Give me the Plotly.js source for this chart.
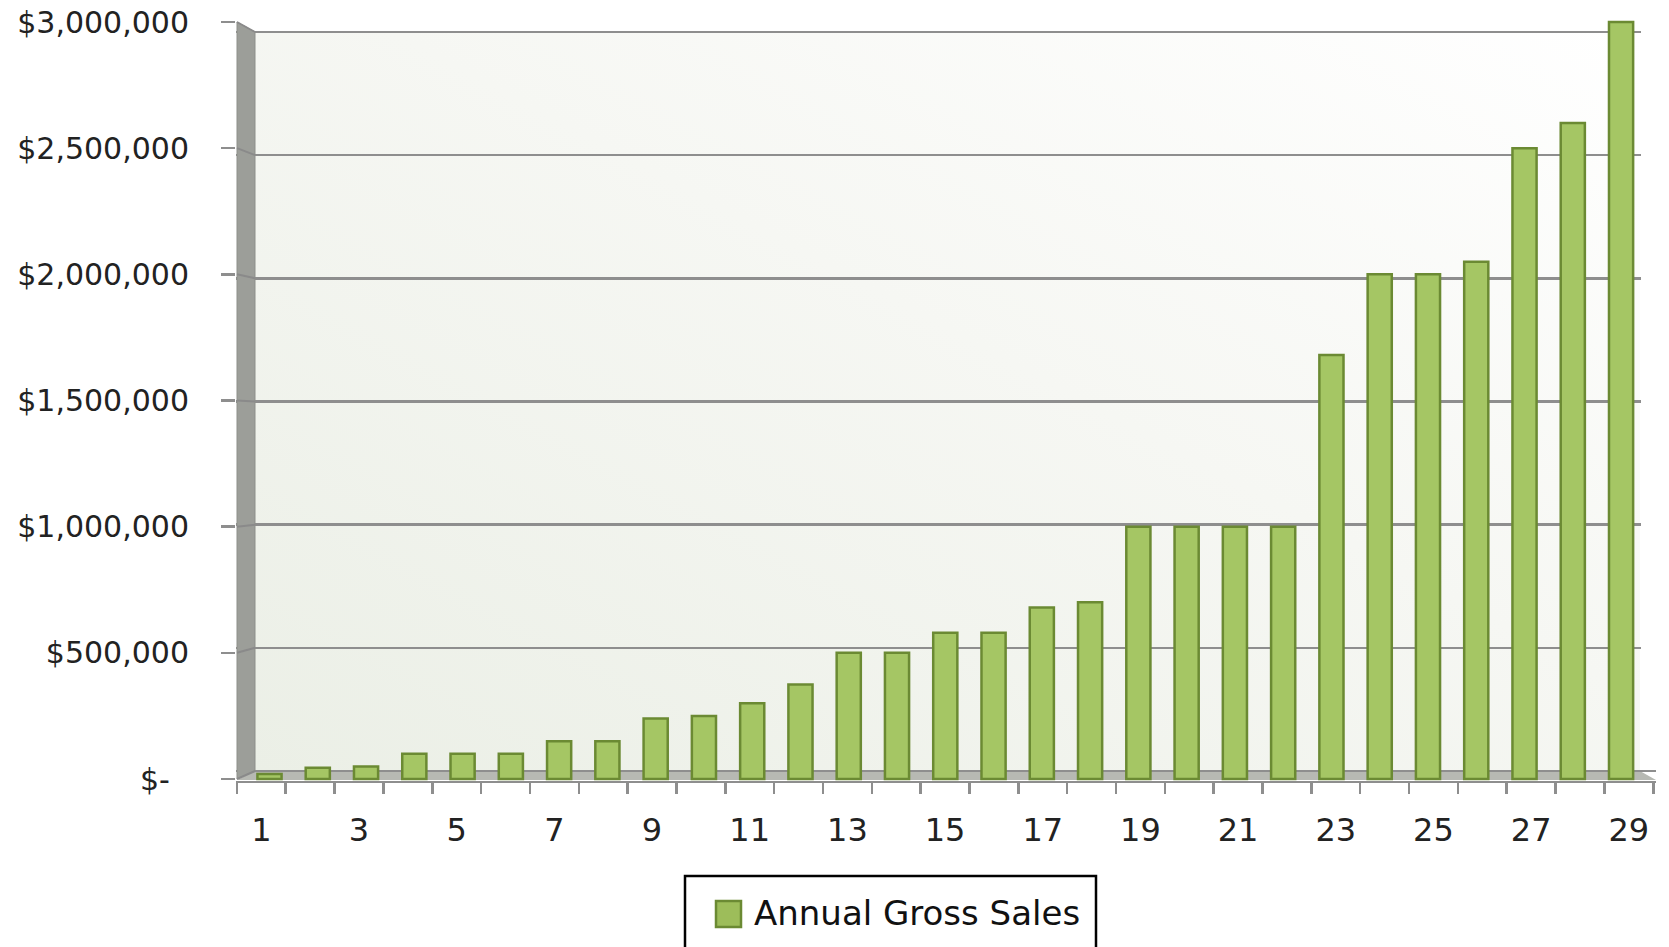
<!DOCTYPE html>
<html>
<head>
<meta charset="utf-8">
<script src="https://cdn.plot.ly/plotly-3.0.1.min.js"></script>
<style>
  html, body { margin: 0; padding: 0; background: #ffffff; }
  #chart { width: 1669px; height: 947px; }
</style>
</head>
<body>
<div id="chart"></div>
<script>
// ---- data ----
const years = [1, 2, 3, 4, 5, 6, 7, 8, 9, 10, 11, 12, 13, 14, 15, 16, 17, 18, 19, 20, 21, 22, 23, 24, 25, 26, 27, 28, 29];
const annualGrossSales = [20000, 45000, 50000, 100000, 100000, 100000, 150000, 150000, 240000, 250000,
  300000, 375000, 500000, 500000, 580000, 580000, 680000, 700000, 1000000, 1000000,
  1000000, 1000000, 1680000, 2000000, 2000000, 2050000, 2500000, 2600000, 3000000];
const seriesName = 'Annual Gross Sales';
const yTickVals = [0, 500000, 1000000, 1500000, 2000000, 2500000, 3000000];
const yTickText = ['$-\u00a0\u00a0', '$500,000', '$1,000,000', '$1,500,000', '$2,000,000', '$2,500,000', '$3,000,000'];
const xTickLabels = ['1', '3', '5', '7', '9', '11', '13', '15', '17', '19', '21', '23', '25', '27', '29'];

// ---- layout geometry (pixels) ----
const W = 1669, H = 947;
const plotL = 236, plotR = 1656, plotT = 20, plotB = 781;
const pw = plotR - plotL, ph = plotB - plotT;
const px = x => (x - plotL) / pw;          // pixel -> paper x
const py = y => (plotB - y) / ph;          // pixel -> paper y
const yMax = 3000000;

// back wall scale (gridlines): $0 at 771, $3M at 32
const backZero = 771, backTop = 32;
const backPerPx = yMax / (backZero - backTop);
const yBackRange = [-(plotB - backZero) * backPerPx, yMax + (backTop - plotT) * backPerPx];
// front scale (bars, tick labels): $0 at 779, $3M at 22
const frontZero = 779, frontTop = 22;
const frontPerPx = yMax / (frontZero - frontTop);
const yFrontRange = [-(plotB - frontZero) * frontPerPx, yMax + (frontTop - plotT) * frontPerPx];
const backPx = v => backZero - v / backPerPx;
const frontPx = v => frontZero - v / frontPerPx;

// bar positions: bar 1 centre at 269.5 px, 48.27 px per category
const barC1 = 269.5, barUnit = 48.27;
const xBarRange = [1 - (barC1 - plotL) / barUnit, 1 + (plotR - barC1) / barUnit];
// front category axis (labels / tick marks): boundary 0.5 at 236.9 px, 48.84 px per category
const frontB0 = 236.9, frontUnit = 48.84;
const xFrontRange = [0.5 - (frontB0 - plotL) / frontUnit, 0.5 + (plotR - frontB0) / frontUnit];

const wallR = 255, wallBackRight = 1640;

const bgSvg = "<svg xmlns='http://www.w3.org/2000/svg' width='200' height='100' preserveAspectRatio='none'>" +
  "<defs><linearGradient id='g' x1='0' y1='1' x2='1' y2='0'>" +
  "<stop offset='0' stop-color='#ebefe6'/><stop offset='0.55' stop-color='#f6f7f3'/><stop offset='1' stop-color='#ffffff'/>" +
  "</linearGradient></defs><rect width='200' height='100' fill='url(#g)'/></svg>";
const bgUri = 'data:image/svg+xml;charset=utf-8,' + encodeURIComponent(bgSvg);

const font = 'DejaVu Sans, Open Sans, sans-serif';
const barColor = '#a5c664';
const barLine = '#6b8a33';

const bars = {
  type: 'bar',
  name: seriesName,
  x: years,
  y: annualGrossSales,
  xaxis: 'x',
  yaxis: 'y2',
  width: 0.5,
  marker: { color: barColor, line: { color: barLine, width: 2.5 } },
  showlegend: false,
  hoverinfo: 'x+y'
};
// empty helper trace so the front category axis is drawn
const frontAxisHelper = { type: 'scatter', x: [], y: [], xaxis: 'x2', yaxis: 'y2', showlegend: false, hoverinfo: 'skip' };
// empty helper on the back scale for the gridlines
const backAxisHelper = { type: 'scatter', x: [], y: [], xaxis: 'x', yaxis: 'y', showlegend: false, hoverinfo: 'skip' };

const shapes = [
  // floor
  { type: 'path', xref: 'paper', yref: 'paper', layer: 'below',
    path: `M ${px(237)} ${py(780)} L ${px(wallR)} ${py(backZero)} L ${px(wallBackRight)} ${py(backZero)} L ${px(1656)} ${py(780)} Z`,
    fillcolor: '#b7b9b3', line: { width: 0 } },
  // cover gridlines right of the back wall
  { type: 'rect', xref: 'paper', yref: 'paper', layer: 'above',
    x0: px(wallBackRight + 1), x1: 1.01, y0: py(backZero - 1), y1: 1.01,
    fillcolor: '#ffffff', line: { width: 0 } },
  // left side wall
  { type: 'path', xref: 'paper', yref: 'paper', layer: 'above',
    path: `M ${px(237)} ${py(frontTop)} L ${px(wallR)} ${py(backTop)} L ${px(wallR)} ${py(backZero)} L ${px(237)} ${py(frontZero)} Z`,
    fillcolor: '#9c9e99', line: { color: '#8d8f8a', width: 1 } },
  // legend box
  { type: 'rect', xref: 'paper', yref: 'paper', layer: 'above',
    x0: px(685), x1: px(1096), y0: py(950), y1: py(876),
    fillcolor: '#ffffff', line: { color: '#000000', width: 2.5 } },
  // legend symbol
  { type: 'rect', xref: 'paper', yref: 'paper', layer: 'above',
    x0: px(716), x1: px(741), y0: py(927), y1: py(901),
    fillcolor: '#9dbd5a', line: { color: '#6b8a33', width: 2.5 } }
];
// diagonal connectors from each front tick to the back gridline
yTickVals.forEach(v => {
  shapes.push({ type: 'line', xref: 'paper', yref: 'paper', layer: 'above',
    x0: px(237), y0: py(frontPx(v)), x1: px(wallR), y1: py(backPx(v)),
    line: { color: '#8a8a8a', width: 2 } });
});

const layout = {
  width: W, height: H,
  margin: { l: plotL, r: W - plotR, t: plotT, b: H - plotB, pad: 0 },
  paper_bgcolor: '#ffffff',
  plot_bgcolor: 'rgba(0,0,0,0)',
  font: { family: font, color: '#222222', size: 30 },
  showlegend: false,
  bargap: 0,
  xaxis: {
    type: 'linear',
    range: xBarRange,
    showticklabels: false,
    ticks: '',
    showgrid: false,
    zeroline: false,
    showline: false
  },
  xaxis2: {
    type: 'linear',
    overlaying: 'x',
    anchor: 'y',
    side: 'bottom',
    range: xFrontRange,
    tickmode: 'array',
    tickvals: xTickLabels.map(Number),
    ticktext: xTickLabels,
    ticks: '',
    showgrid: false,
    zeroline: false,
    showline: true,
    linecolor: '#8e8e8e',
    linewidth: 2,
    tickfont: { family: font, size: 32, color: '#222222' },
    ticklabelstandoff: 20,
    minor: { tickmode: 'linear', tick0: 0.5, dtick: 1, ticks: 'outside', ticklen: 11, tickwidth: 2.5, tickcolor: '#8e8e8e', showgrid: false }
  },
  yaxis: {
    range: yBackRange,
    tickmode: 'array',
    tickvals: yTickVals,
    showticklabels: false,
    ticks: '',
    showgrid: true,
    gridcolor: '#8e8e8e',
    gridwidth: 2.5,
    zeroline: false,
    showline: false
  },
  yaxis2: {
    overlaying: 'y',
    anchor: 'x',
    side: 'left',
    range: yFrontRange,
    tickmode: 'array',
    tickvals: yTickVals,
    ticktext: yTickText,
    ticks: 'outside',
    ticklen: 14,
    tickwidth: 2.5,
    tickcolor: '#8e8e8e',
    showgrid: false,
    zeroline: false,
    showline: false,
    tickfont: { family: font, size: 30, color: '#222222' },
    ticklabelstandoff: 26
  },
  images: [{
    source: bgUri, xref: 'paper', yref: 'paper',
    x: px(wallR), y: py(backTop), sizex: px(wallBackRight) - px(wallR), sizey: py(backTop) - py(backZero),
    xanchor: 'left', yanchor: 'top', sizing: 'stretch', layer: 'below'
  }],
  shapes: shapes,
  annotations: [{
    xref: 'paper', yref: 'paper',
    x: px(752), y: py(913), xanchor: 'left', yanchor: 'middle',
    text: seriesName, showarrow: false,
    font: { family: font, size: 34, color: '#111111' }
  }]
};

Plotly.newPlot('chart', [backAxisHelper, frontAxisHelper, bars], layout, { displayModeBar: false, staticPlot: true });
</script>
</body>
</html>
